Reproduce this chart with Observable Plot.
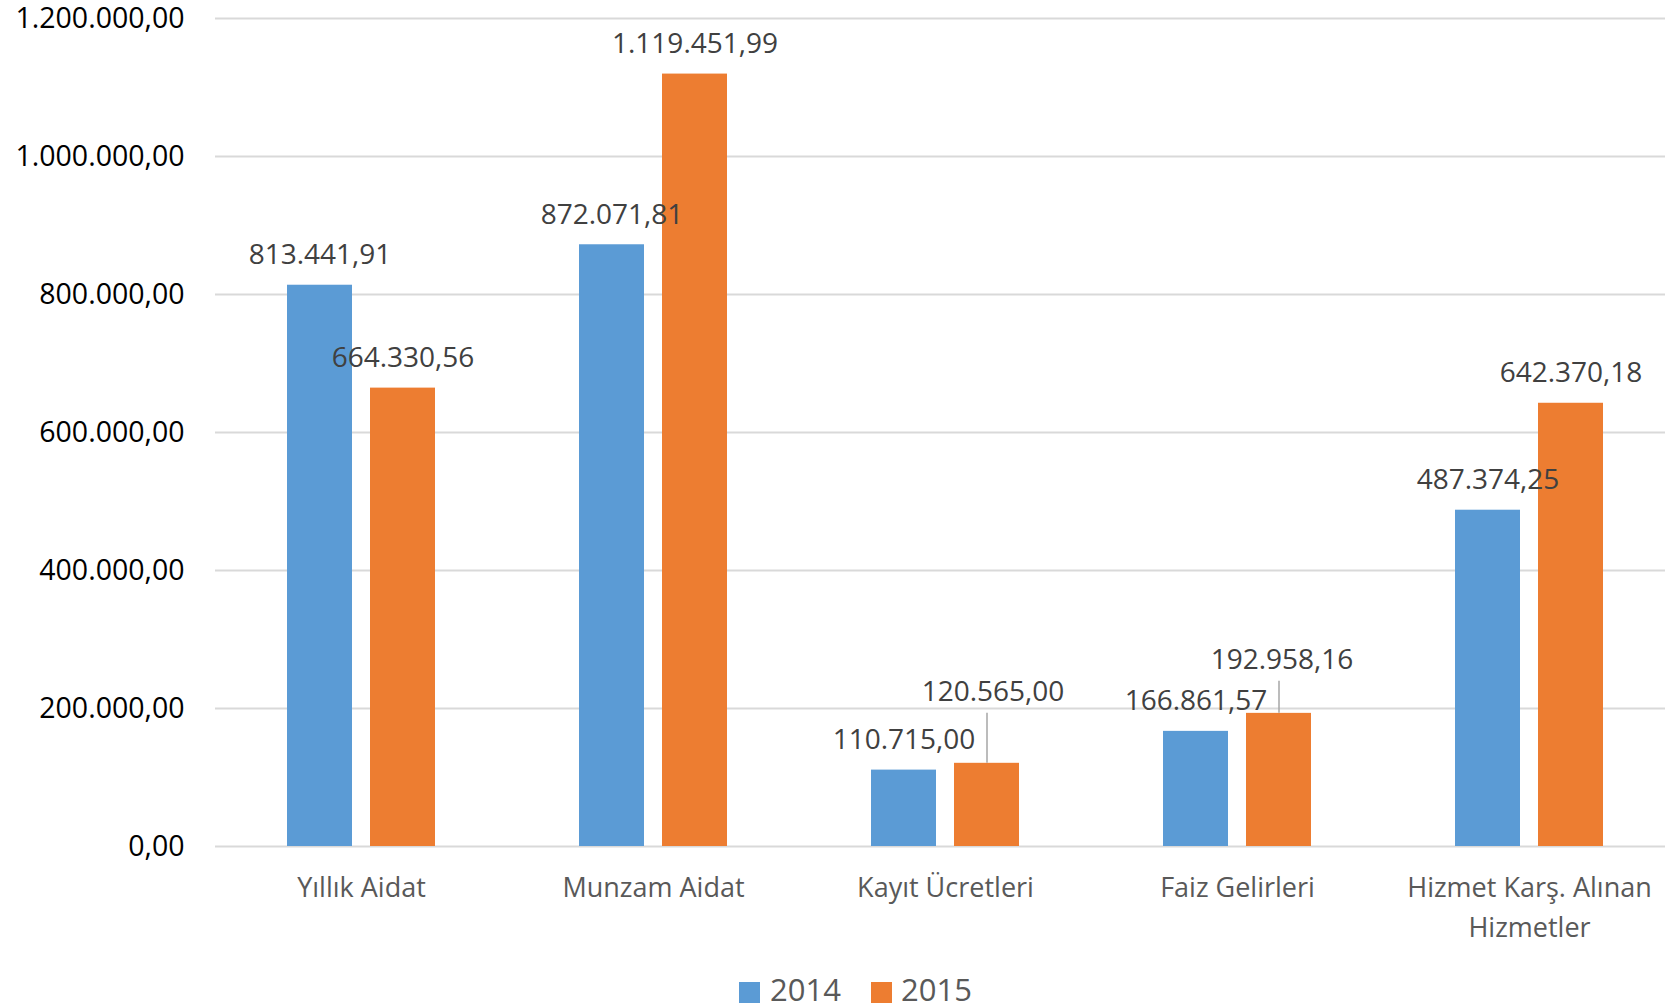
<!DOCTYPE html>
<html><head><meta charset="utf-8">
<script src="https://cdn.jsdelivr.net/npm/d3@7"></script>
<script src="https://cdn.jsdelivr.net/npm/@observablehq/plot@0.6"></script>
<style>
html,body{margin:0;padding:0;background:#fff;overflow:hidden;}
#chart{position:relative;width:1665px;height:1007px;}
.legend{position:absolute;top:960px;left:0;width:1665px;height:47px;font-family:"Open Sans";}
.sw{position:absolute;top:22px;width:21px;height:21px;}
.lt{position:absolute;top:14px;font-size:31px;line-height:31px;color:#595959;white-space:nowrap;}
</style></head><body><div id="chart"></div>
<script>
const categories = ["Yıllık Aidat", "Munzam Aidat", "Kayıt Ücretleri", "Faiz Gelirleri", "Hizmet Karş. Alınan Hizmetler"];
const categoryLabels = ["Yıllık Aidat", "Munzam Aidat", "Kayıt Ücretleri", "Faiz Gelirleri", "Hizmet Karş. Alınan\nHizmetler"];
const series = ["2014", "2015"];
const values2014 = [813441.91, 872071.81, 110715.00, 166861.57, 487374.25];
const values2015 = [664330.56, 1119451.99, 120565.00, 192958.16, 642370.18];
const yTicks = [0, 200000, 400000, 600000, 800000, 1000000, 1200000];
const colors = ["#5B9BD5", "#ED7D31"];

const data = [];
categories.forEach((c, i) => {
  data.push({category: c, series: "2014", value: values2014[i]});
  data.push({category: c, series: "2015", value: values2015[i]});
});
const labelMap = new Map(categories.map((c, i) => [c, categoryLabels[i]]));

const loc = d3.formatLocale({decimal: ",", thousands: ".", grouping: [3], currency: ["", ""]});
const fmt = loc.format(",.2f");

// label placement tweaks (Excel moved a couple of labels, with leader lines)
const special = {
  "Kayıt Ücretleri|2015": {dx: 6, dy: -71, lead: 50},
  "Faiz Gelirleri|2015": {dx: 3, dy: -53, lead: 32}
};
const key = d => d.category + "|" + d.series;
const normal = data.filter(d => !special[key(d)]);

const W = 1665, H = 960, mTop = 18, mBottom = 114;
const yScale = Plot.scale({y: {domain: [0, 1200000], range: [H - mBottom, mTop]}});

const marks = [
  Plot.gridY(yTicks, {stroke: "#d9d9d9", strokeWidth: 2, strokeOpacity: 1}),
  Plot.barY(data, {fx: "category", x: "series", y: "value", fill: "series"}),
  Plot.axisY({ticks: yTicks, tickFormat: fmt, tickSize: 0, tickPadding: 31, fontSize: 28.5, color: "#000", label: null}),
  Plot.axisFx({anchor: "bottom", tickSize: 0, tickPadding: 22, fontSize: 27, color: "#595959", lineHeight: 1.48, tickFormat: d => labelMap.get(d), label: null}),
  Plot.text(normal, {fx: "category", x: "series", y: "value", text: d => fmt(d.value), dy: -30, fontSize: 28, fill: "#404040"})
];
for (const k of Object.keys(special)) {
  const s = special[k];
  const rows = data.filter(d => key(d) === k);
  marks.push(Plot.ruleX(rows, {fx: "category", x: "series", y1: "value",
    y2: d => yScale.invert(yScale.apply(d.value) - s.lead), stroke: "#a6a6a6", strokeWidth: 1.5}));
  marks.push(Plot.text(rows, {fx: "category", x: "series", y: "value", text: d => fmt(d.value),
    dx: s.dx, dy: s.dy, fontSize: 28, fill: "#404040"}));
}

const chart = Plot.plot({
  width: W, height: H,
  marginLeft: 215, marginRight: 0, marginTop: mTop, marginBottom: mBottom,
  style: {fontFamily: "Open Sans", fontSize: "28px", background: "white", overflow: "visible"},
  fx: {domain: categories, range: [215, 1675], padding: 0, label: null},
  x: {domain: series, paddingInner: 0.211, paddingOuter: 0.8645, axis: null},
  y: {domain: [0, 1200000]},
  color: {domain: series, range: colors},
  marks
});
const root = document.getElementById("chart");
root.appendChild(chart);

const legend = document.createElement("div");
legend.className = "legend";
const items = [{x: 739, tx: 770}, {x: 871, tx: 901}];
series.forEach((s, i) => {
  const sw = document.createElement("div");
  sw.className = "sw"; sw.style.left = items[i].x + "px"; sw.style.background = colors[i];
  const t = document.createElement("div");
  t.className = "lt"; t.style.left = items[i].tx + "px"; t.textContent = s;
  legend.appendChild(sw); legend.appendChild(t);
});
root.appendChild(legend);
</script></body></html>
